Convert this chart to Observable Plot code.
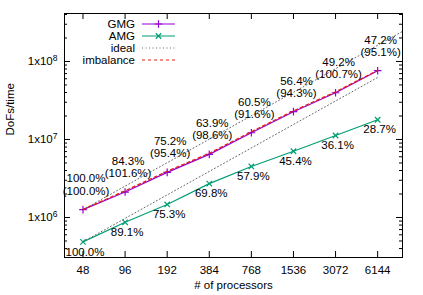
<!DOCTYPE html>
<html><head><meta charset="utf-8">
<script src="https://cdn.jsdelivr.net/npm/d3@7"></script>
<script src="https://cdn.jsdelivr.net/npm/@observablehq/plot@0.6"></script>
<style>
html,body{margin:0;padding:0;background:#fff;}
#chart{width:423px;height:295px;overflow:hidden;}
</style></head><body><div id="chart"></div>
<script>
// ---- data ----
const procs = [48, 96, 192, 384, 768, 1536, 3072, 6144];
const gmg = [1.26e6, 2.12e6, 3.79e6, 6.44e6, 1.22e7, 2.27e7, 3.97e7, 7.61e7];
const amg = [4.87e5, 8.68e5, 1.47e6, 2.72e6, 4.51e6, 7.07e6, 1.125e7, 1.79e7];
const imbalance = [1.27e6, 2.2e6, 3.92e6, 6.65e6, 1.26e7, 2.33e7, 4.08e7, 7.7e7];
const gmgEff = ["100.0%", "84.3%", "75.2%", "63.9%", "60.5%", "56.4%", "49.2%", "47.2%"];
const gmgImb = ["(100.0%)", "(101.6%)", "(95.4%)", "(98.6%)", "(91.6%)", "(94.3%)", "(100.7%)", "(95.1%)"];
const amgEff = ["100.0%", "89.1%", "75.3%", "69.8%", "57.9%", "45.4%", "36.1%", "28.7%"];
const idealGmgProcs = [48, 9200];
const idealGmgVals = [1.26e6, 2.415e8];
const idealAmgProcs = [48, 6144];
const idealAmgVals = [4.87e5, 6.23e7];
const yMajorTicks = [1e6, 1e7, 1e8];
const yMinorTicks = [4e5, 5e5, 6e5, 7e5, 8e5, 9e5, 2e6, 3e6, 4e6, 5e6, 6e6, 7e6, 8e6, 9e6,
  2e7, 3e7, 4e7, 5e7, 6e7, 7e7, 8e7, 9e7, 2e8, 3e8, 4e8];
const legendLabels = ["GMG", "AMG", "ideal", "imbalance"];
const xLabel = "# of processors";
const yLabel = "DoFs/time";

// ---- tables ----
const gmgData = procs.map((p, i) => ({p, v: gmg[i], t: gmgEff[i] + "\n" + gmgImb[i]}));
const amgData = procs.map((p, i) => ({p, v: amg[i], t: amgEff[i]}));
const imbData = procs.map((p, i) => ({p, v: imbalance[i]}));
const idealG = idealGmgProcs.map((p, i) => ({p, v: idealGmgVals[i]}));
const idealA = idealAmgProcs.map((p, i) => ({p, v: idealAmgVals[i]}));

const C = {gmg: "#9400d3", amg: "#009e73", ideal: "#666666", imb: "#e51e10"};
const W = 423, H = 295, mL = 64, mR = 21, mT = 13, mB = 38;
const fw = W - mL - mR, fh = H - mT - mB;
const font = "'Liberation Sans', Arial, Helvetica, sans-serif";
const FS = 11.5;
const R = 2.6;

const plot = Plot.plot({
  width: W, height: H,
  marginLeft: mL, marginRight: mR, marginTop: mT, marginBottom: mB,
  style: {fontFamily: font, fontSize: FS + "px", color: "#000", background: "#fff"},
  x: {type: "log", base: 2, domain: [35.4, 9250]},
  y: {type: "log", domain: [3.07e5, 4.12e8]},
  marks: [
    Plot.axisX(procs, {tickSize: 0, tickPadding: 8, tickFormat: d => String(d), label: null, fontSize: FS}),
    Plot.axisY(yMajorTicks, {tickSize: 0, tickPadding: 7, label: null, fontSize: FS,
      tickFormat: d => "1x10^" + Math.round(Math.log10(d))}),
    Plot.text([xLabel], {frameAnchor: "bottom", dy: 31, fontSize: FS}),
    Plot.text([yLabel], {frameAnchor: "left", dx: -54, rotate: -90, fontSize: FS}),
    // inward ticks
    Plot.tickX(procs, {x: d => d, insetTop: fh - 6, stroke: "#000"}),
    Plot.tickX(procs, {x: d => d, insetBottom: fh - 6, stroke: "#000"}),
    Plot.tickY(yMajorTicks, {y: d => d, insetRight: fw - 6, stroke: "#000"}),
    Plot.tickY(yMajorTicks, {y: d => d, insetLeft: fw - 6, stroke: "#000"}),
    Plot.tickY(yMinorTicks, {y: d => d, insetRight: fw - 3, stroke: "#000"}),
    Plot.tickY(yMinorTicks, {y: d => d, insetLeft: fw - 3, stroke: "#000"}),
    // series
    Plot.line(gmgData, {x: "p", y: "v", stroke: C.gmg, strokeWidth: 1.2}),
    Plot.dot(gmgData, {x: "p", y: "v", symbol: "plus", r: R, stroke: C.gmg, strokeWidth: 1.2}),
    Plot.line(amgData, {x: "p", y: "v", stroke: C.amg, strokeWidth: 1.2}),
    Plot.dot(amgData, {x: "p", y: "v", symbol: "times", r: R, stroke: C.amg, strokeWidth: 1.2}),
    Plot.line(idealG, {x: "p", y: "v", stroke: C.ideal, strokeWidth: 1, strokeDasharray: "1,2.5"}),
    Plot.line(idealA, {x: "p", y: "v", stroke: C.ideal, strokeWidth: 1, strokeDasharray: "1,2.5"}),
    Plot.line(imbData, {x: "p", y: "v", stroke: C.imb, strokeWidth: 1.2, strokeDasharray: "3,3"}),
    // labels
    Plot.text(gmgData, {x: "p", y: "v", text: "t", dx: 3, dy: -25, lineHeight: 1.05, fontSize: FS, fill: "#000"}),
    Plot.text(amgData, {x: "p", y: "v", text: "t", dx: 2, dy: 10, fontSize: FS, fill: "#000"}),
    Plot.frame({stroke: "#000", strokeWidth: 1})
  ]
});

document.getElementById("chart").appendChild(plot);

// superscript exponents on y tick labels
d3.select(plot).selectAll('g[aria-label="y-axis tick label"] text').each(function () {
  const s = this.textContent;
  const [base, exp] = s.split("^");
  const t = d3.select(this);
  t.text(base);
  t.append("tspan").attr("dy", "-0.45em").attr("font-size", "8.5px").text(exp);
});

// legend (inside the frame, top-left, gnuplot style)
const svg = d3.select(plot);
const lg = svg.append("g").attr("font-family", font).attr("font-size", FS + "px");
const rows = [24, 36, 48, 60];
const tx = 135, lx1 = 142, lx2 = 175;
const styles = [
  {stroke: C.gmg, dash: null, sym: d3.symbolPlus, w: 1.2},
  {stroke: C.amg, dash: null, sym: d3.symbolTimes, w: 1.2},
  {stroke: C.ideal, dash: "1,2.5", sym: null, w: 1},
  {stroke: C.imb, dash: "3,3", sym: null, w: 1.2}
];
legendLabels.forEach((lab, i) => {
  const y = rows[i];
  lg.append("text").attr("x", tx).attr("y", y).attr("dy", "0.32em").attr("text-anchor", "end").attr("fill", "#000").text(lab);
  const ln = lg.append("line").attr("x1", lx1).attr("x2", lx2).attr("y1", y).attr("y2", y)
    .attr("stroke", styles[i].stroke).attr("stroke-width", styles[i].w);
  if (styles[i].dash) ln.attr("stroke-dasharray", styles[i].dash);
  if (styles[i].sym) {
    lg.append("path").attr("transform", `translate(${(lx1 + lx2) / 2},${y})`)
      .attr("d", d3.symbol(styles[i].sym, Math.PI * R * R)())
      .attr("fill", "none").attr("stroke", styles[i].stroke).attr("stroke-width", styles[i].w);
  }
});
</script>
</body></html>
